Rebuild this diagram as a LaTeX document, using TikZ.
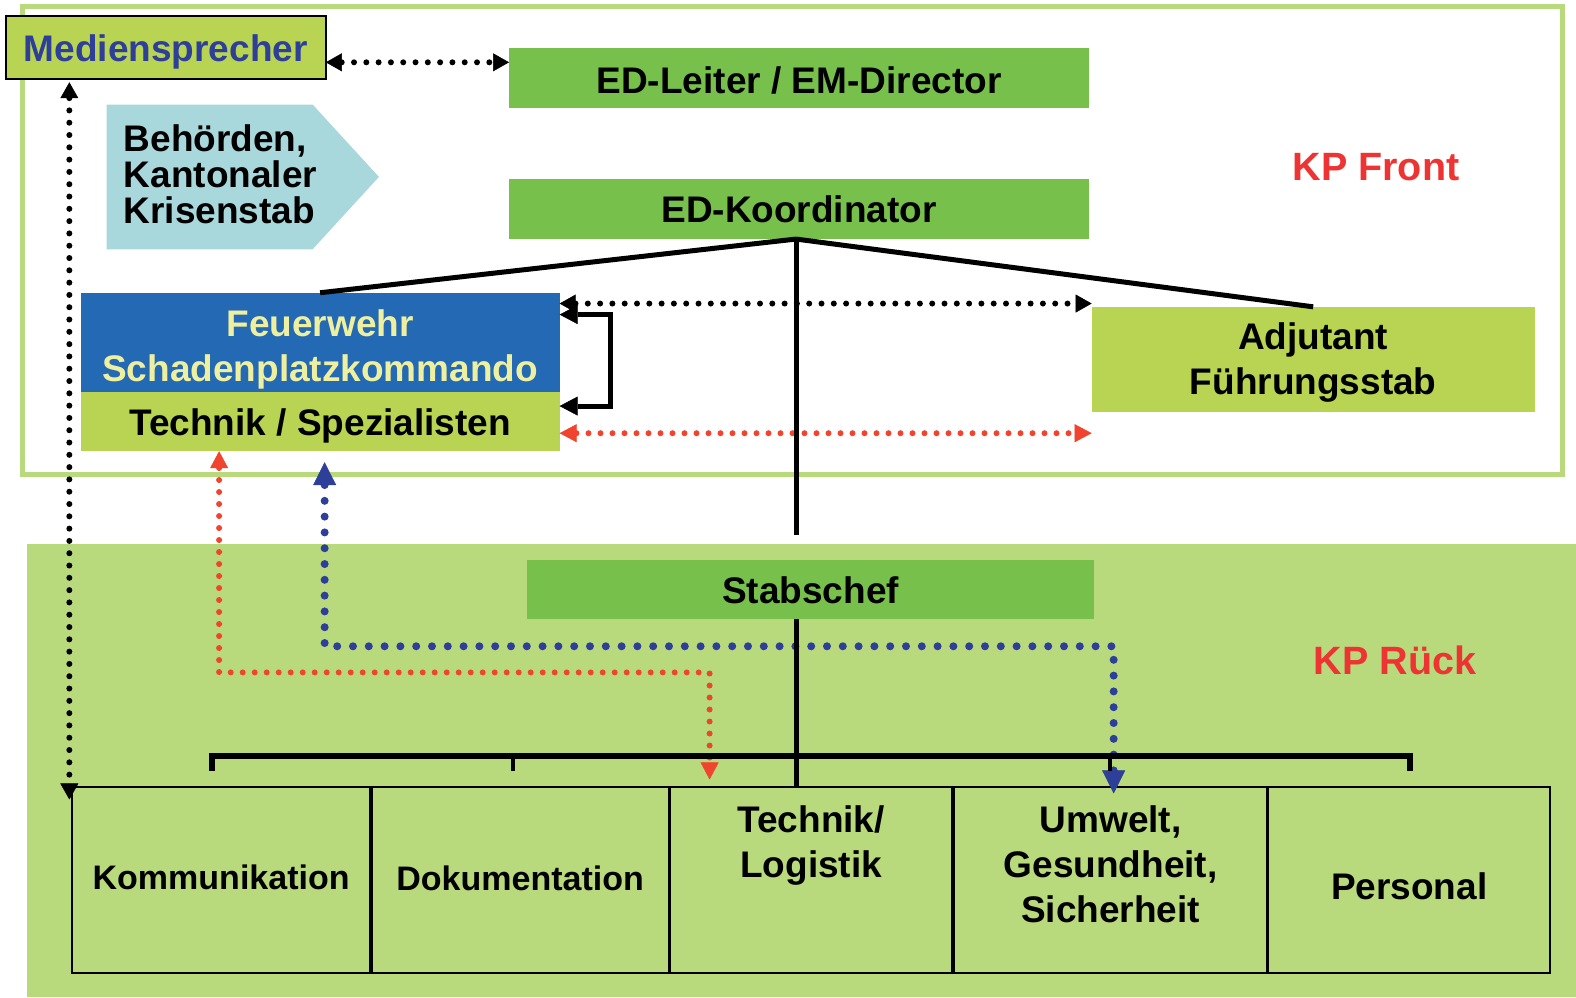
\documentclass[tikz,border=0pt]{standalone}
\usepackage{fontspec}
\setmainfont{Liberation Sans}
\usetikzlibrary{arrows.meta}
\definecolor{frameg}{HTML}{B8D97C}
\definecolor{midg}{HTML}{76C04B}
\definecolor{yelg}{HTML}{B8D452}
\definecolor{fwblue}{HTML}{2369B3}
\definecolor{fwtext}{HTML}{EEF0A0}
\definecolor{behc}{HTML}{A9D8DC}
\definecolor{medblue}{HTML}{2E3F9A}
\definecolor{kpred}{HTML}{EE3333}
\definecolor{dotred}{HTML}{F0442F}
\begin{document}
\begin{tikzpicture}[x=1.0051pt,y=-1.0051pt,
  big/.style={font=\fontsize{37}{45}\selectfont\bfseries, align=center, inner sep=0pt},
  mid/.style={font=\fontsize{34}{42}\selectfont\bfseries, align=center, inner sep=0pt},
  kp/.style={font=\fontsize{39.5}{45}\selectfont\bfseries, text=kpred, inner sep=0pt},
  box/.style={inner sep=0pt, outer sep=0pt, draw=none},
  lowbox/.style={box, draw=black, line width=2pt, minimum height=186pt},
  tree/.style={line width=5pt},
  tipblk/.style={arrows={Triangle[length=16pt,width=18pt,line width=0.5pt]-Triangle[length=16pt,width=18pt,line width=0.5pt]}},
  blkdot/.style={line width=6pt, dash pattern=on 0pt off 12.3pt, line cap=round, tipblk},
  reddot/.style={dotred, line width=6pt, dash pattern=on 0pt off 12pt, line cap=round,
     arrows={Triangle[length=17pt,width=18pt,line width=0.5pt]-Triangle[length=17pt,width=18pt,line width=0.5pt]}},
  bludot/.style={medblue, line width=8pt, dash pattern=on 0pt off 15.8pt, line cap=round,
     arrows={Triangle[length=23pt,width=23pt,line width=0.5pt]-Triangle[length=23pt,width=23pt,line width=0.5pt]}},
]
\useasboundingbox (0,0) rectangle (1568,992);
% regions
\fill[frameg] (27,541) rectangle (1568,992);
\draw[frameg, line width=5pt] (22,6) rectangle (1555,472);

% helper coordinates
\coordinate (ym) at (0,62);
\coordinate (yb) at (0,302);
\coordinate (yr) at (0,431);
\coordinate (yt1) at (0,313);
\coordinate (yt2) at (0,404);
\coordinate (xbr) at (607,0);
\coordinate (xv) at (69,0);
\coordinate (xr) at (218,0);
\coordinate (yr2) at (0,669);
\coordinate (xr2) at (706,0);
\coordinate (xb) at (323,0);
\coordinate (yb2) at (0,643);
\coordinate (xb2) at (1108,0);
\coordinate (trunk) at (792,532);

% boxes
\node[box, fill=midg, minimum width=580pt, minimum height=60pt] (edl) at (795,78) {};
\node[box, fill=midg, minimum width=580pt, minimum height=60pt] (koord) at (795,208) {};
\node[box, fill=fwblue, minimum width=479pt, minimum height=99pt] (fw) at (318.5,340.5) {};
\node[box, fill=yelg, minimum width=479pt, minimum height=59pt] (tech) at (318.5,419.5) {};
\node[box, fill=yelg, minimum width=443pt, minimum height=105pt] (adj) at (1306.5,357.5) {};
\node[box, fill=midg, minimum width=567pt, minimum height=59pt] (stab) at (806.5,586.5) {};
\node[lowbox, minimum width=298pt] (komm) at (220,876) {};
\node[lowbox, minimum width=297pt] (doku) at (517.5,876) {};
\node[lowbox, minimum width=282pt] (tl) at (807,876) {};
\node[lowbox, minimum width=313pt] (ugs) at (1104.5,876) {};
\node[lowbox, minimum width=282pt] (pers) at (1402,876) {};
\node[box, fill=yelg, draw=black, line width=2pt, minimum width=320pt, minimum height=63pt] (med) at (165,47.5) {};

% texts
\node[big] (edlt) at (795,79.6) {ED-Leiter / EM-Director};
\node[big] (koordt) at (795,208) {ED-Koordinator};
\node[big, text=fwtext] (fwt) at (318.5,347.5) {Feuerwehr\\Schadenplatzkommando};
\node[big] (techt) at (318.5,424) {Technik / Spezialisten};
\node[big] (adjt) at (1306.5,361) {Adjutant\\Führungsstab};
\node[big] (stabt) at (806.5,587.5) {Stabschef};
\node[mid] (kommt) at (220,873) {Kommunikation};
\node[mid] (dokut) at (517.5,874) {Dokumentation};
\node[big] (tlt) at (807,841) {Technik/\\Logistik};
\node[big] (ugst) at (1105,859.5) {Umwelt,\\Gesundheit,\\Sicherheit};
\node[big] (perst) at (1402,881.5) {Personal};
\node[big, text=medblue] (medt) at (165,52) {Mediensprecher};

% Behoerden arrow shape
\fill[behc] (106,104) -- (311,104) -- (377,176) -- (311,248) -- (106,248) -- cycle;
\node[inner sep=0pt, align=left, anchor=west, font=\fontsize{37}{36}\selectfont\bfseries] (beh) at (123,173) {Behörden,\\Kantonaler\\Krisenstab};

% labels
\node[kp] (kpf) at (1369,166) {KP Front};
\node[kp] (kpr) at (1388,657) {KP Rück};

% dotted connectors
\draw[blkdot] (med.east |- ym) -- (edl.west |- ym);
\draw[blkdot] (fw.east |- yb) -- (adj.west |- yb);
\draw[reddot] (tech.east |- yr) -- (adj.west |- yr);
\draw[blkdot, shorten <=3pt, shorten >=-12pt] (med.south -| xv) -- (komm.north -| xv);
\draw[reddot, shorten >=8pt] (tech.south -| xr) -- (xr |- yr2) -- (xr2 |- yr2) -- (tl.north -| xr2);
\draw[bludot, shorten <=11pt, shorten >=-6pt] (tech.south -| xb) -- (xb |- yb2) -- (xb2 |- yb2) -- (ugs.north -| xb2);

% solid bracket arrow
\draw[line width=5pt, arrows={Triangle[length=18pt,width=19pt,line width=0.5pt]-Triangle[length=18pt,width=19pt,line width=0.5pt]}]
  (fw.east |- yt1) -- (xbr |- yt1) -- (xbr |- yt2) -- (tech.east |- yt2);

% tree lines
\draw[tree] (koord.south -| trunk) -- (fw.north);
\draw[tree] (koord.south -| trunk) -- (adj.north);
\draw[tree] (koord.south -| trunk) -- (trunk);
\draw[tree] (stab.south -| trunk) -- (tl.north -| trunk);
\draw[line width=6pt, line join=miter] (211,767) -- (211,752) -- (1403,752) -- (1403,767);
\draw[line width=4pt] (510,752) -- (510,767);
\draw[line width=4pt] (1104,752) -- (1104,767);
\end{tikzpicture}
\end{document}
